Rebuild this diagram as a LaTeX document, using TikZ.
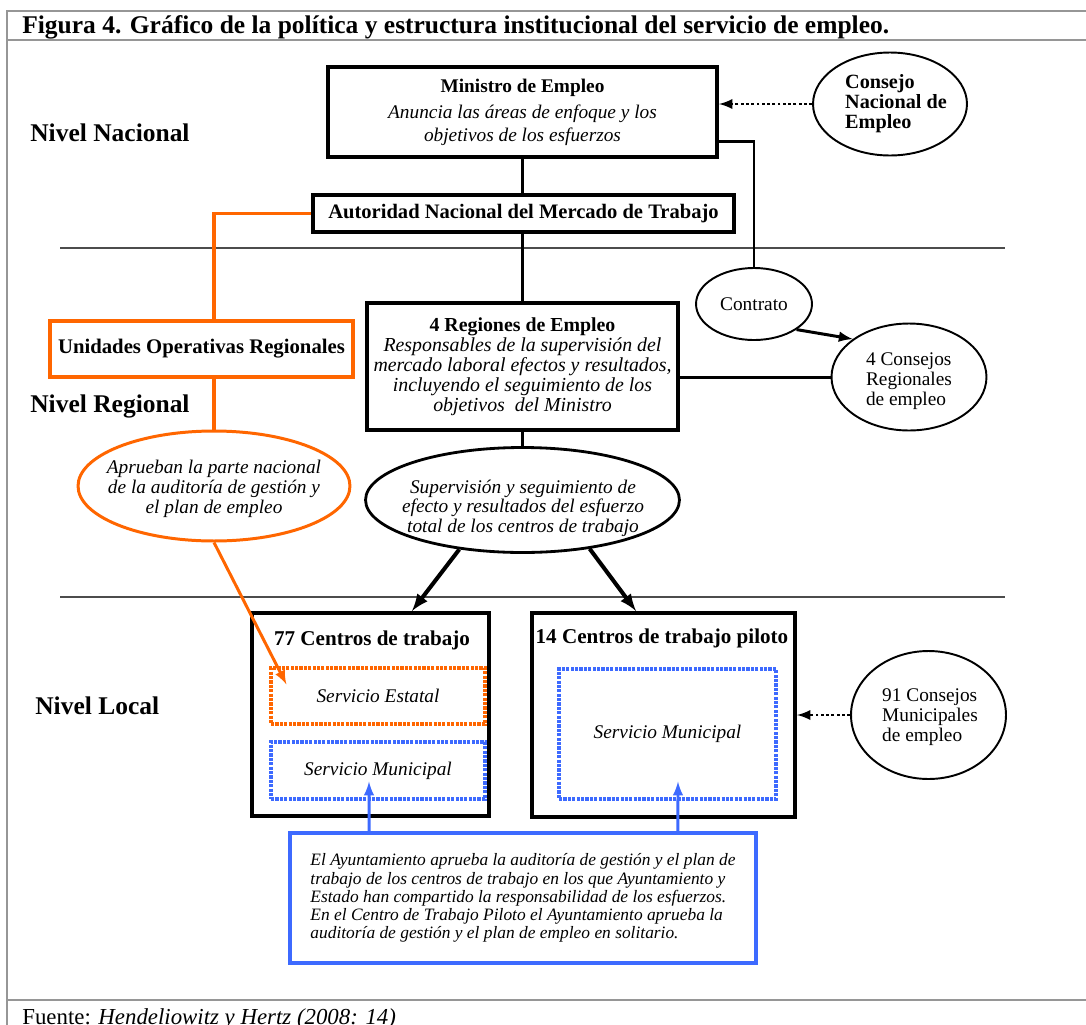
\documentclass[tikz,border=0pt]{standalone}
\usepackage{fontspec}
\setmainfont{Liberation Serif}
\usepackage{tikz}
\usetikzlibrary{shapes,shapes.geometric,arrows,positioning}
\definecolor{naranja}{RGB}{255,102,0}
\definecolor{azul}{RGB}{61,106,255}
\definecolor{marco}{RGB}{150,150,150}

\begin{document}
\begin{tikzpicture}[x=0.02cm,y=-0.02cm]
            \tikzstyle{every node} = [align=center, inner sep=0pt]
            \tikzstyle{caja} = [draw, rectangle, line width=2.3pt]
            \tikzstyle{ovalo} = [draw, ellipse, line width=1.1pt]
            \tikzstyle{servicio} = [rectangle, line width=1.8pt, dash pattern=on 1.8pt off 0.7pt, font=\fontsize{11}{13}\selectfont\itshape]
            \tikzstyle{txt} = [font=\fontsize{11}{13}\selectfont]
            \tikzstyle{nivel} = [anchor=west, font=\fontsize{14.5}{17}\selectfont\bfseries]
            \tikzstyle{linea} = [line width=1.7pt]
            \tikzstyle{flecha} = [line width=1.7pt, -latex]
            \tikzstyle{puntos} = [line width=1.6pt, dash pattern=on 1.6pt off 1.4pt, -latex]
            \useasboundingbox (0,0) rectangle (1086,1025);

            % marco de la tabla
            \draw[marco, line width=1pt] (7,1025) -- (7,11) -- (1086,11);
            \draw[marco, line width=1pt] (7,40) -- (1086,40);
            \draw[marco, line width=1pt] (7,1000) -- (1086,1000);
            \node[anchor=base west, font=\fontsize{14.5}{15}\selectfont\bfseries] (titulo) at (22,33) {Figura 4. Gráfico de la política y estructura institucional del servicio de empleo.};
            \node[anchor=base west, font=\fontsize{13}{15}\selectfont] (fuente) at (22,1024) {Fuente: \textit{Hendeliowitz y Hertz (2008: 14)}};

            % niveles
            \draw[gray!60!black, line width=0.8pt] (60,248) -- (1005,248);
            \draw[gray!60!black, line width=0.8pt] (60,597) -- (1005,597);
            \node[nivel] (nn) at (30,133) {Nivel Nacional};
            \node[nivel] (nr) at (30,406) {Nivel Regional};
            \node[nivel] (nl) at (35,706) {Nivel Local};

            % nivel nacional
            \node[caja, txt, minimum width=7.78cm, minimum height=1.8cm] (min) at (522.5,112) {\textbf{Ministro de Empleo}\\[2pt] \textit{Anuncia las áreas de enfoque y los}\\ \textit{objetivos de los esfuerzos}};
            \node[ovalo, minimum width=3.08cm, minimum height=2.06cm] (cne) at (890,104) {};
            \node[txt, align=left, font=\fontsize{11.5}{11.4}\selectfont\bfseries] (cnetxt) at (896,104) {Consejo\\Nacional de\\Empleo};
            \node[caja, txt, minimum width=8.42cm, minimum height=0.74cm, font=\fontsize{11.7}{13}\selectfont\bfseries] (aut) at (523.5,213.5) {Autoridad Nacional del Mercado de Trabajo};

            % nivel regional
            \node[caja, draw=naranja, minimum width=6.06cm, minimum height=1.12cm, font=\fontsize{11.8}{13}\selectfont\bfseries] (uor) at (201.5,349) {Unidades Operativas Regionales};
            \node[ovalo, draw=naranja, line width=1.7pt, minimum width=5.44cm, minimum height=2.2cm] (apr) at (214,486) {};
            \node[font=\fontsize{11}{11.4}\selectfont\itshape] (aprtxt) at (214,489) {Aprueban la parte nacional\\de la auditoría de gestión y\\el plan de empleo};
            \node[caja, minimum width=6.22cm, minimum height=2.54cm, font=\fontsize{11.3}{11.4}\selectfont] (reg) at (522.5,366.5) {\textbf{4 Regiones de Empleo}\\ \textit{Responsables de la supervisión del}\\ \textit{mercado laboral efectos y resultados,}\\ \textit{incluyendo el seguimiento de los}\\ \textit{objetivos\ \ del Ministro}};
            \node[ovalo, minimum width=2.32cm, minimum height=1.44cm] (ctr) at (754,304) {};
            \node[txt] (ctrtxt) at (754,304) {Contrato};
            \node[ovalo, minimum width=3.1cm, minimum height=2.14cm] (c4) at (909,377) {};
            \node[align=left, font=\fontsize{11}{11.4}\selectfont] (c4txt) at (909,381) {4 Consejos\\Regionales\\de empleo};
            \node[ovalo, line width=1.6pt, minimum width=6.28cm, minimum height=2.1cm] (sup) at (522.5,500) {};
            \node[font=\fontsize{11}{10}\selectfont\itshape] (suptxt) at (523,508) {Supervisión y seguimiento de\\efecto y resultados del esfuerzo\\total de los centros de trabajo};

            % nivel local
            \node[caja, minimum width=4.74cm, minimum height=4.06cm] (c77) at (370.5,714.5) {};
            \node[font=\fontsize{12}{13}\selectfont\bfseries] (t77) at (372,640) {77 Centros de trabajo};
            \node[servicio, draw=naranja, minimum width=4.28cm, minimum height=1.12cm] (est) at (378,696) {Servicio Estatal};
            \node[servicio, draw=azul, minimum width=4.28cm, minimum height=1.14cm] (mun1) at (378,770.5) {Servicio Municipal};
            \node[caja, minimum width=5.26cm, minimum height=4.08cm] (pil) at (663.5,715) {};
            \node[font=\fontsize{12}{13}\selectfont\bfseries] (tpil) at (662,638) {14 Centros de trabajo piloto};
            \node[servicio, draw=azul, minimum width=4.34cm, minimum height=2.6cm] (mun2) at (667.5,734) {Servicio Municipal};
            \node[ovalo, minimum width=3.1cm, minimum height=2.56cm] (c91) at (928.5,715) {};
            \node[align=left, font=\fontsize{11}{11.4}\selectfont] (c91txt) at (930,717) {91 Consejos\\Municipales\\de empleo};
            \node[draw=azul, line width=2.3pt, minimum width=9.32cm, minimum height=2.6cm, align=left, font=\fontsize{9.9}{10.3}\selectfont\itshape] (ayu) at (523,898) {El Ayuntamiento aprueba la auditoría de gestión y el plan de\\trabajo de los centros de trabajo en los que Ayuntamiento y\\Estado han compartido la responsabilidad de los esfuerzos.\\En el Centro de Trabajo Piloto el Ayuntamiento aprueba la\\auditoría de gestión y el plan de empleo en solitario.};

            % conexiones
            \draw[puntos] (cne.west) -- (cne.west -| min.east);
            \draw[linea] ([yshift=0.36cm]min.south east) -| (ctr.north);
            \draw[linea] (min.south) -- (min.south |- aut.north);
            \draw[linea] (reg.north |- aut.south) -- (reg.north);
            \draw[naranja, line width=2.2pt] (aut.west) -| (uor.north -| apr.north);
            \draw[naranja, line width=2.2pt] (apr.north |- uor.south) -- (apr.north);
            \draw[naranja, flecha] (apr.south) -- ([xshift=0.34cm,yshift=-0.36cm]est.north west);
            \draw[linea] (reg.east |- c4.west) -- (c4.west);
            \draw[flecha] (ctr.-31) -- (c4.146);
            \draw[linea] (reg.south) -- (sup.north);
            \draw[flecha, line width=2.3pt] (sup.218) -- ([xshift=0.83cm]c77.north);
            \draw[flecha, line width=2.3pt] (sup.-36) -- ([xshift=-0.55cm]pil.north);
            \draw[puntos] (c91.west) -- (c91.west -| pil.east);
            \draw[azul, flecha] ([xshift=-3.08cm]ayu.north) -- ([xshift=-0.18cm,yshift=0.38cm]mun1.south);
            \draw[azul, flecha] ([xshift=3.1cm]ayu.north) -- ([xshift=0.21cm,yshift=0.38cm]mun2.south);
      \end{tikzpicture}
\end{document}
